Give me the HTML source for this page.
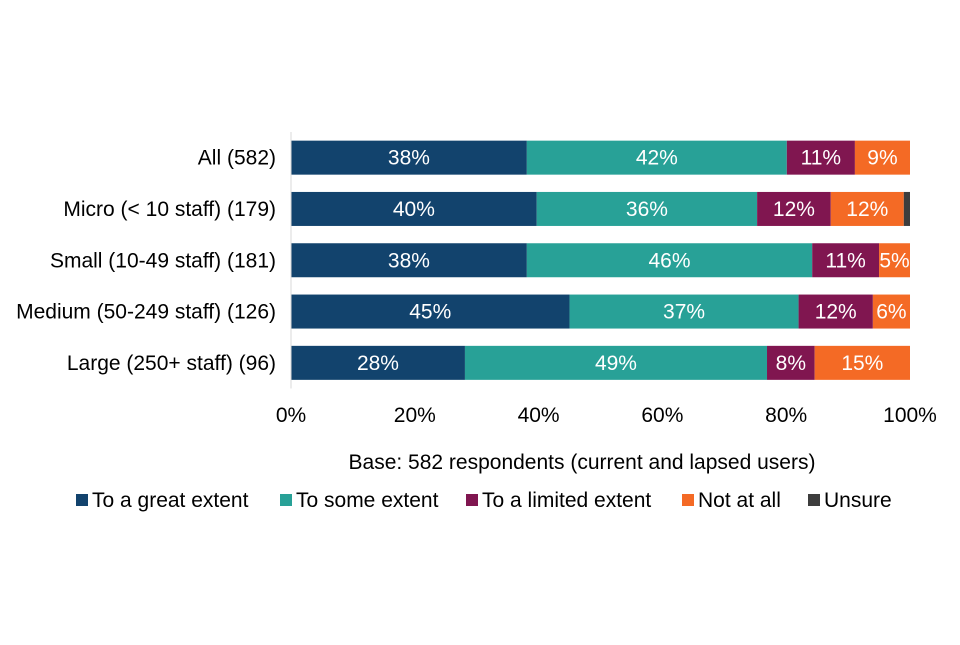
<!DOCTYPE html>
<html><head><meta charset="utf-8"><style>
body{margin:0;background:#fff;}
svg text{font-family:"Liberation Sans",Arial,sans-serif;}
</style></head><body>
<svg id="chart" width="960" height="640" xmlns="http://www.w3.org/2000/svg"></svg>
<script>
const categories=["All (582)","Micro (< 10 staff) (179)","Small (10-49 staff) (181)","Medium (50-249 staff) (126)","Large (250+ staff) (96)"];
const seriesNames=["To a great extent","To some extent","To a limited extent","Not at all","Unsure"];
const greatExtent=[38.1,39.7,38.1,45.0,28.1];
const someExtent=[42.0,35.6,46.1,37.0,48.8];
const limitedExtent=[11.0,11.9,10.8,12.0,7.7];
const notAtAll=[8.9,11.8,5.0,6.0,15.4];
const unsure=[0,1.0,0,0,0];
const labelsGreat=["38%","40%","38%","45%","28%"];
const labelsSome=["42%","36%","46%","37%","49%"];
const labelsLimited=["11%","12%","11%","12%","8%"];
const labelsNot=["9%","12%","5%","6%","15%"];
const ticks=[0,20,40,60,80,100];
const tickLabels=["0%","20%","40%","60%","80%","100%"];
const colors=["#12436D","#28A197","#801650","#F46A25","#3D3D3D"];
const series=[greatExtent,someExtent,limitedExtent,notAtAll,unsure];
const labels=[labelsGreat,labelsSome,labelsLimited,labelsNot,null];
const svg=document.getElementById('chart');
const NS="http://www.w3.org/2000/svg";
const x0=291,x1=910,yTop=132,rowH=51.3,barH=34,FS=21;
const xs=v=>x0+(x1-x0)*v/100;
const yc=i=>yTop+rowH*(i+0.5);
function mk(t,a){const e=document.createElementNS(NS,t);for(const k in a)e.setAttribute(k,a[k]);svg.appendChild(e);return e;}
categories.forEach((c,i)=>{
  const t=mk('text',{x:276,y:yc(i)+7,'text-anchor':'end','font-size':FS,fill:'#000'});t.textContent=c;
  
  
  let acc=0;
  series.forEach((s,j)=>{
    const v=s[i];if(v<=0)return;
    const r=mk('rect',{x:xs(acc),y:yc(i)-barH/2,width:xs(acc+v)-xs(acc),height:barH,fill:colors[j]});
    
    
    if(labels[j]){
      const l=mk('text',{x:(xs(acc)+xs(acc+v))/2,y:yc(i)+7,'text-anchor':'middle','font-size':FS,fill:'#fff'});
      l.textContent=labels[j][i];
      
      
    }
    acc+=v;
  });
});
const ax=mk('line',{x1:x0,x2:x0,y1:yTop,y2:yTop+rowH*5,stroke:'#d9d9d9','stroke-width':1});


ticks.forEach((v,k)=>{
  const t=mk('text',{x:xs(v),y:422,'text-anchor':'middle','font-size':FS,fill:'#000'});t.textContent=tickLabels[k];
  
  
});
const b=mk('text',{x:582,y:469,'text-anchor':'middle','font-size':FS,fill:'#000'});b.textContent="Base: 582 respondents (current and lapsed users)";


const legX=[76,280,466,682,808];
seriesNames.forEach((n,j)=>{
  const g=document.createElementNS(NS,'g');svg.appendChild(g);
  
  
  const r=document.createElementNS(NS,'rect');
  r.setAttribute('x',legX[j]);r.setAttribute('y',494);r.setAttribute('width',12);r.setAttribute('height',12);r.setAttribute('fill',colors[j]);g.appendChild(r);
  const t=document.createElementNS(NS,'text');
  t.setAttribute('x',legX[j]+16);t.setAttribute('y',507);t.setAttribute('font-size',FS);t.textContent=n;g.appendChild(t);
});
</script>
</body></html>
